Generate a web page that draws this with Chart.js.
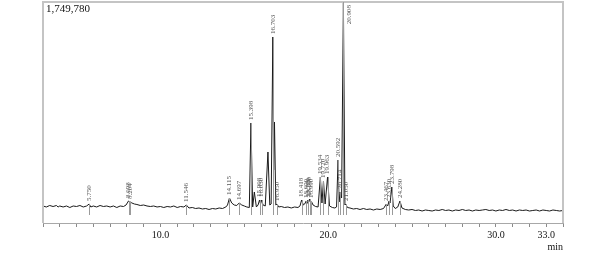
<!DOCTYPE html>
<html>
<head>
<meta charset="utf-8">
<script src="https://cdn.jsdelivr.net/npm/chart.js@4/dist/chart.umd.min.js"></script>
<style>
html,body{margin:0;padding:0;background:#fff;}
canvas{display:block;}
</style>
</head>
<body>
<canvas id="c" width="601" height="256"></canvas>
<script>
// Retention time (min)
const times = [3.0,3.2,3.4,3.6,3.8,3.9,4.0,4.2,4.4,4.6,4.8,5.0,5.2,5.4,5.6,5.75,5.85,6.0,6.2,6.4,6.6,6.8,7.0,7.2,7.4,7.6,7.8,7.95,8.098,8.204,8.3,8.45,8.6,8.8,9.0,9.2,9.4,9.6,9.8,10.0,10.2,10.4,10.6,10.8,11.0,11.2,11.4,11.546,11.7,11.9,12.1,12.3,12.5,12.7,12.9,13.1,13.3,13.5,13.7,13.9,14.0,14.115,14.25,14.4,14.55,14.697,14.85,15.0,15.15,15.3,15.398,15.5,15.6,15.72,15.82,15.908,15.97,16.03,16.12,16.25,16.41,16.52,16.6,16.703,16.75,16.80,16.88,16.95,17.05,17.2,17.4,17.6,17.8,18.0,18.2,18.32,18.418,18.52,18.6,18.69,18.74,18.79,18.84,18.89,18.94,18.99,19.1,19.25,19.4,19.534,19.63,19.72,19.82,19.963,20.08,20.25,20.4,20.5,20.592,20.65,20.714,20.8,20.908,21.0,21.05,21.15,21.3,21.5,21.7,21.9,22.1,22.3,22.5,22.7,22.9,23.1,23.3,23.467,23.55,23.63,23.69,23.798,23.88,24.0,24.15,24.28,24.4,24.6,24.8,25.0,25.2,25.4,25.6,25.8,26.0,26.2,26.4,26.6,26.8,27.0,27.2,27.4,27.6,27.8,28.0,28.2,28.4,28.6,28.8,29.0,29.2,29.4,29.6,29.8,30.0,30.2,30.4,30.6,30.8,31.0,31.2,31.4,31.6,31.8,32.0,32.2,32.4,32.6,32.8,33.0,33.2,33.4,33.6,33.8,34.0];
// Detector signal (thousands of counts)
const signal = [134.6,126.7,138.6,130.6,138.6,126.7,134.6,126.7,134.6,122.7,134.6,130.6,138.6,126.7,134.6,150.4,126.7,134.6,126.7,138.6,130.6,134.6,126.7,134.6,122.7,134.6,130.6,142.5,174.2,166.3,158.4,150.4,146.5,138.6,142.5,134.6,130.6,134.6,126.7,130.6,122.7,130.6,126.7,134.6,122.7,130.6,126.7,142.5,118.8,122.7,114.8,118.8,110.9,114.8,106.9,114.8,110.9,118.8,114.8,126.7,142.5,197.9,158.4,142.5,138.6,158.4,142.5,134.6,126.7,122.7,791.8,126.7,245.5,126.7,142.5,182.1,150.4,182.1,142.5,134.6,562.2,142.5,150.4,1472.7,419.7,799.7,142.5,150.4,126.7,130.6,122.7,126.7,118.8,126.7,122.7,134.6,182.1,142.5,150.4,174.2,158.4,182.1,166.3,190.0,166.3,174.2,142.5,130.6,126.7,364.2,158.4,332.6,150.4,364.2,134.6,122.7,118.8,126.7,498.8,166.3,245.5,197.9,1749.8,142.5,150.4,122.7,118.8,110.9,114.8,106.9,114.8,106.9,110.9,102.9,110.9,106.9,114.8,150.4,134.6,174.2,158.4,285.0,134.6,114.8,126.7,174.2,118.8,106.9,102.9,106.9,99.0,102.9,95.0,102.9,99.0,95.0,102.9,99.0,106.9,99.0,102.9,95.0,102.9,99.0,106.9,99.0,102.9,95.0,102.9,99.0,102.9,106.9,99.0,102.9,95.0,102.9,99.0,106.9,99.0,102.9,95.0,102.9,99.0,102.9,95.0,99.0,102.9,95.0,102.9,99.0,95.0,102.9,99.0,95.0,99.0];
// Peak retention-time labels
const peakLabels = ["5.750","8.098","8.204","11.546","14.115","14.697","15.398","15.908","16.030","16.703","16.950","18.418","18.690","18.790","18.890","18.990","19.534","19.720","19.963","20.592","20.714","20.908","21.050","23.467","23.630","23.798","24.280"];
// Axis tick labels
const tickLabels = [10, 20, 30, 33];
const maxIntensityText = "1,749,780";
const yMax = 1749.78;

const points = times.map((t, i) => ({x: t, y: signal[i]}));

const overlay = {
  id: 'overlay',
  afterDatasetsDraw(chart) {
    const ctx = chart.ctx;
    const a = chart.chartArea;
    const xs = chart.scales.x, ys = chart.scales.y;
    ctx.save();
    // frame
    ctx.strokeStyle = '#c4c4c4';
    ctx.lineWidth = 2;
    ctx.beginPath();
    ctx.moveTo(a.left, a.bottom);
    ctx.lineTo(a.left, a.top);
    ctx.lineTo(a.right, a.top);
    ctx.lineTo(a.right, a.bottom);
    ctx.stroke();
    // header intensity
    ctx.fillStyle = '#111';
    ctx.font = '11px "Liberation Serif", "DejaVu Serif", serif';
    ctx.textAlign = 'left';
    ctx.textBaseline = 'top';
    ctx.fillText(maxIntensityText, a.left + 3, a.top + 2);
    // peak markers and labels
    ctx.font = '7px "Liberation Serif", "DejaVu Serif", serif';
    peakLabels.forEach(lbl => {
      const t = Number(lbl);
      let v = -Infinity;
      times.forEach((tt, i) => { if (Math.abs(tt - t) < 0.03) v = Math.max(v, signal[i]); });
      if (!isFinite(v)) return;
      const px = xs.getPixelForValue(t);
      const py = ys.getPixelForValue(Math.min(v, yMax));
      const w = ctx.measureText(lbl).width;
      let lx = px, ly = py - 3;
      if (ly - w < a.top + 2) { lx = px + 6; ly = a.top + 3 + w; }
      ctx.strokeStyle = '#9a9a9a';
      ctx.lineWidth = 1;
      ctx.beginPath();
      ctx.moveTo(Math.round(px) + 0.5, Math.max(py, a.top));
      ctx.lineTo(Math.round(px) + 0.5, a.bottom - 8);
      ctx.stroke();
      ctx.save();
      ctx.translate(lx, ly);
      ctx.rotate(-Math.PI / 2);
      ctx.fillStyle = '#555';
      ctx.textAlign = 'left';
      ctx.textBaseline = 'middle';
      ctx.fillText(lbl, 0, 0);
      ctx.restore();
    });
    ctx.restore();
  }
};

new Chart(document.getElementById('c'), {
  type: 'line',
  data: {
    datasets: [{
      data: points,
      borderColor: '#1a1a1a',
      borderWidth: 1,
      pointRadius: 0,
      tension: 0,
      fill: false
    }]
  },
  options: {
    responsive: false,
    animation: false,
    devicePixelRatio: 1,
    layout: {padding: {left: 43, right: 38, top: 2, bottom: 0}},
    plugins: {legend: {display: false}, tooltip: {enabled: false}},
    scales: {
      x: {
        type: 'linear',
        min: 3, max: 34,
        afterFit(scale) { scale.height = 33; },
        border: {display: true, color: '#a8a8a8', width: 1},
        grid: {drawOnChartArea: false, drawTicks: true, tickLength: 4, color: '#8a8a8a'},
        ticks: {
          stepSize: 1, autoSkip: false, maxRotation: 0, padding: 2,
          color: '#111',
          font: {family: '"Liberation Serif", "DejaVu Serif", serif', size: 10},
          callback: v => tickLabels.includes(v) ? v.toFixed(1) : ''
        },
        title: {
          display: true, text: 'min', align: 'end', color: '#111',
          padding: {top: 0, bottom: 3},
          font: {family: '"Liberation Serif", "DejaVu Serif", serif', size: 10}
        }
      },
      y: {display: false, min: 0, max: yMax}
    }
  },
  plugins: [overlay]
});
</script>
</body>
</html>
